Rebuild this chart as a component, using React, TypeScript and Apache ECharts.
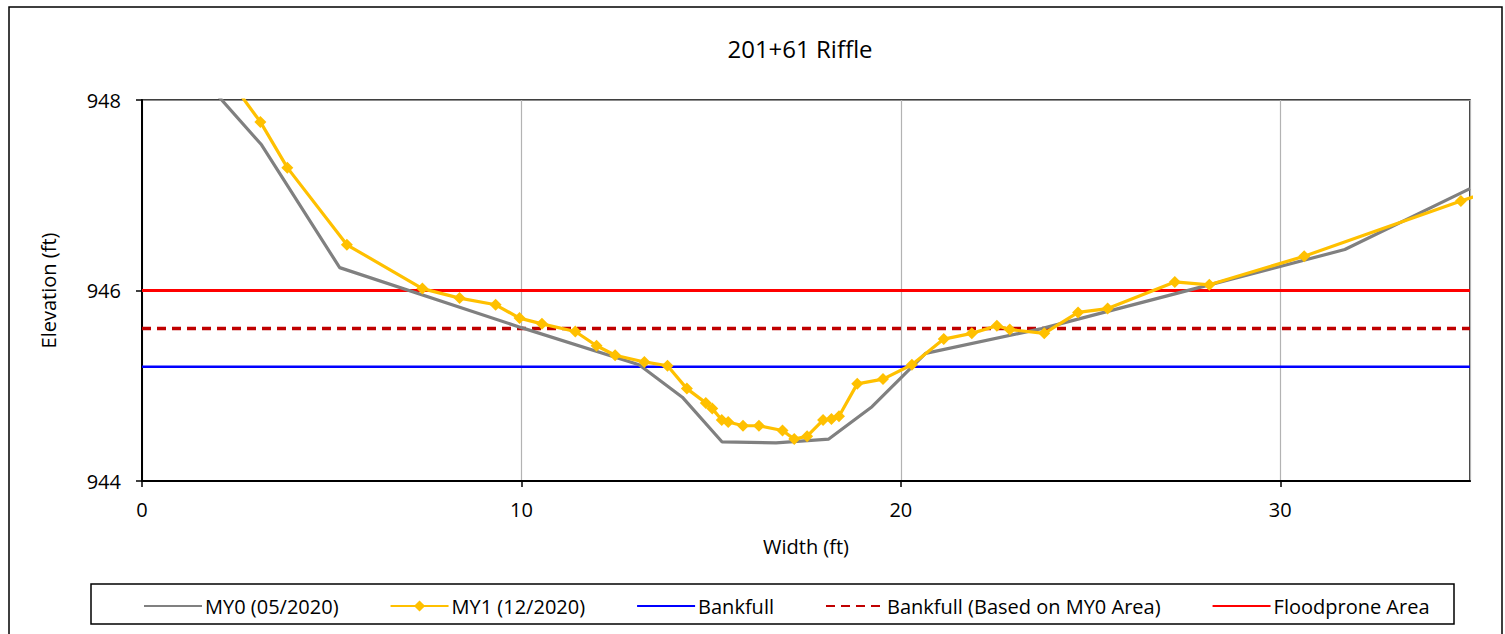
import React, { useEffect, useRef } from "react";
import * as echarts from "echarts";

const chartTitle = "201+61 Riffle";
const xAxisName = "Width (ft)";
const yAxisName = "Elevation (ft)";

const my0Name = "MY0 (05/2020)";
const my0X = [1.5, 3.15, 5.21, 10.0, 13.1, 14.24, 15.29, 16.71, 18.1, 19.24, 20.65, 23.71, 31.7, 35.0];
const my0Y = [948.27, 947.53, 946.24, 945.61, 945.22, 944.88, 944.41, 944.4, 944.44, 944.78, 945.34, 945.6, 946.43, 947.07];

const my1Name = "MY1 (12/2020)";
const my1X = [2.2, 3.12, 3.83, 5.4, 7.39, 8.37, 9.32, 9.95, 10.54, 11.42, 11.98, 12.47, 13.24, 13.85, 14.36, 14.86, 15.03, 15.28, 15.45, 15.84, 16.26, 16.88, 17.19, 17.53, 17.95, 18.17, 18.37, 18.85, 19.53, 20.29, 21.13, 21.87, 22.53, 22.87, 23.78, 24.67, 25.45, 27.22, 28.13, 30.63, 34.76, 35.6];
const my1Y = [948.27, 947.77, 947.29, 946.48, 946.02, 945.92, 945.85, 945.71, 945.65, 945.57, 945.42, 945.32, 945.25, 945.21, 944.97, 944.82, 944.76, 944.64, 944.62, 944.58, 944.58, 944.53, 944.44, 944.47, 944.64, 944.65, 944.68, 945.02, 945.07, 945.22, 945.49, 945.55, 945.63, 945.59, 945.55, 945.77, 945.81, 946.09, 946.06, 946.36, 946.94, 947.05];

const bankfullName = "Bankfull";
const bankfullX = [0, 35];
const bankfullY = [945.2, 945.2];

const bankfullMY0Name = "Bankfull (Based on MY0 Area)";
const bankfullMY0X = [0, 35];
const bankfullMY0Y = [945.6, 945.6];

const floodName = "Floodprone Area";
const floodX = [0, 35];
const floodY = [946.0, 946.0];

const xMin = 0;
const xMax = 35;
const xInterval = 10;
const yMin = 944;
const yMax = 948;
const yInterval = 2;

const zip = (xs: number[], ys: number[]) => xs.map((x, i) => [x, ys[i]]);

const FONT = "'Open Sans', sans-serif";

export default function App() {
  const ref = useRef<HTMLDivElement>(null);

  useEffect(() => {
    if (!ref.current) return;
    const chart = echarts.init(ref.current, undefined, { renderer: "svg" });
    const hideSym = { opacity: 0 };
    const option: any = {
      animation: false,
      backgroundColor: "#ffffff",
      textStyle: { fontFamily: FONT },
      graphic: [
        {
          type: "rect",
          shape: { x: 9, y: 7, width: 1493, height: 640 },
          style: { fill: "none", stroke: "#000", lineWidth: 1.5 },
          silent: true,
          z: -1,
        },
        {
          type: "rect",
          shape: { x: 91, y: 584, width: 1363, height: 40 },
          style: { fill: "none", stroke: "#000", lineWidth: 1.5 },
          silent: true,
        },
        {
          type: "text",
          x: 800,
          y: 48,
          style: {
            text: chartTitle,
            fontFamily: FONT,
            fontSize: 24,
            fill: "#000",
            textAlign: "center",
            textVerticalAlign: "middle",
          },
        },
      ],
      legend: {
        left: 138,
        top: 591,
        itemWidth: 58,
        itemHeight: 14,
        itemGap: 51,
        textStyle: { fontFamily: FONT, fontSize: 20, color: "#000", padding: [0, 0, 0, -2] },
        data: [
          { name: my0Name, itemStyle: hideSym },
          { name: my1Name },
          { name: bankfullName, itemStyle: hideSym },
          { name: bankfullMY0Name, itemStyle: hideSym },
          { name: floodName, itemStyle: hideSym },
        ],
      },
      grid: {
        left: 142,
        right: 35,
        top: 100,
        bottom: 153,
        show: true,
        borderColor: "#000",
        borderWidth: 1.5,
      },
      xAxis: {
        type: "value",
        min: xMin,
        max: xMax,
        interval: xInterval,
        name: xAxisName,
        nameLocation: "middle",
        nameGap: 55,
        nameTextStyle: { fontFamily: FONT, fontSize: 20, color: "#000" },
        axisLine: { show: true, lineStyle: { color: "#000", width: 2 } },
        axisTick: { show: true, length: 6, lineStyle: { color: "#000", width: 1.5 } },
        axisLabel: { fontFamily: FONT, fontSize: 20, color: "#000", margin: 18, showMaxLabel: false },
        splitLine: { show: true, lineStyle: { color: "#b3b3b3", width: 1.2 } },
      },
      yAxis: {
        type: "value",
        min: yMin,
        max: yMax,
        interval: yInterval,
        name: yAxisName,
        nameLocation: "middle",
        nameGap: 84,
        nameTextStyle: { fontFamily: FONT, fontSize: 20, color: "#000" },
        axisLine: { show: true, lineStyle: { color: "#000", width: 2 } },
        axisTick: { show: true, length: 6, lineStyle: { color: "#000", width: 1.5 } },
        axisLabel: { fontFamily: FONT, fontSize: 20, color: "#000", margin: 21 },
        splitLine: { show: true, lineStyle: { color: "#8c8c8c", width: 1.2 } },
      },
      series: [
        {
          name: my0Name,
          type: "line",
          data: zip(my0X, my0Y),
          symbol: "none",
          clip: true,
          lineStyle: { color: "#808080", width: 3.2 },
          itemStyle: { color: "#808080" },
          z: 3,
        },
        {
          name: my1Name,
          type: "line",
          data: zip(my1X, my1Y),
          symbol: "diamond",
          symbolSize: 12,
          showAllSymbol: true,
          clip: true,
          lineStyle: { color: "#FFC000", width: 3.2 },
          itemStyle: { color: "#FFC000", borderWidth: 0 },
          z: 4,
        },
        {
          name: bankfullName,
          type: "line",
          data: zip(bankfullX, bankfullY),
          symbol: "none",
          lineStyle: { color: "#0000FF", width: 2.5 },
          itemStyle: { color: "#0000FF" },
          z: 2,
        },
        {
          name: bankfullMY0Name,
          type: "line",
          data: zip(bankfullMY0X, bankfullMY0Y),
          symbol: "none",
          lineStyle: { color: "#C00000", width: 3.5, type: [9, 6] },
          itemStyle: { color: "#C00000" },
          z: 2,
        },
        {
          name: floodName,
          type: "line",
          data: zip(floodX, floodY),
          symbol: "none",
          lineStyle: { color: "#FF0000", width: 2.8 },
          itemStyle: { color: "#FF0000" },
          z: 2,
        },
      ],
    };
    chart.setOption(option);
    return () => chart.dispose();
  }, []);

  return (
    <div
      ref={ref}
      style={{ position: "fixed", left: 0, top: 0, width: 1505, height: 634, background: "#fff" }}
    />
  );
}
